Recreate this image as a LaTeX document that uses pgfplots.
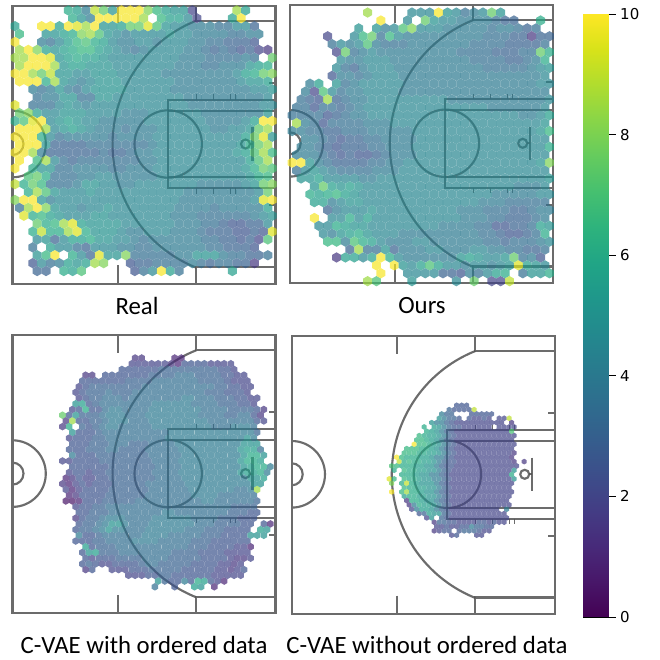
\documentclass[border=0pt]{standalone}
\usepackage{fontspec}
\setmainfont{Carlito}
\newfontfamily\dejavu{DejaVu Sans}
\usepackage{pgfplots}
\usepackage{pgfplotstable}
\pgfplotsset{compat=1.18}
\definecolor{courtgray}{HTML}{888888}

% pointy-top hexagon mark, as a hexbin draws it
\pgfdeclareplotmark{hexa}{%
  \pgfpathmoveto{\pgfpointpolar{30}{\pgfplotmarksize}}%
  \pgfpathlineto{\pgfpointpolar{90}{\pgfplotmarksize}}%
  \pgfpathlineto{\pgfpointpolar{150}{\pgfplotmarksize}}%
  \pgfpathlineto{\pgfpointpolar{210}{\pgfplotmarksize}}%
  \pgfpathlineto{\pgfpointpolar{270}{\pgfplotmarksize}}%
  \pgfpathlineto{\pgfpointpolar{330}{\pgfplotmarksize}}%
  \pgfpathclose\pgfusepathqfill}

% hex values x10, one line per hex row, 00 = empty cell
\pgfplotstableread[header=false]{
00 00 00 00 00  00 60 55 40 90  75 50 99 99 99  80 65 55 50 50  20 00 00 00 00  85 55 00 00 00
00 00 00 00 00  00 60 50 40 99  99 99 99 99 85  00 65 55 55 45  20 00 00 00 55  99 00 00 00 00
55 00 00 99 99  55 99 95 85 99  50 50 55 75 75  95 70 50 45 45  40 40 40 35 35  45 45 30 00 00
65 00 00 50 50  55 60 80 85 70  50 45 40 45 45  45 45 50 45 45  40 40 40 40 35  35 40 40 00 00
99 00 00 40 35  45 55 65 70 60  55 45 40 40 45  45 40 45 45 45  40 40 35 35 30  30 30 25 00 00
85 99 80 55 50  55 60 65 65 55  50 45 40 35 40  45 45 45 45 40  40 35 30 35 30  25 30 20 15 15
85 85 99 99 95  50 55 60 55 55  50 45 45 45 45  45 45 45 45 40  40 40 35 35 35  35 40 35 00 75
85 99 99 99 85  50 55 55 50 50  50 45 45 45 45  45 45 45 40 40  40 35 35 40 40  40 50 55 60 85
99 99 85 75 90  50 50 45 45 50  50 50 45 45 45  45 45 40 40 40  40 40 40 40 40  45 55 60 75 80
99 99 99 60 85  50 45 40 45 50  50 50 45 45 45  45 45 45 40 40  40 40 40 40 40  45 50 50 55 95
00 00 40 35 40  50 40 35 45 50  50 50 50 45 45  45 45 45 40 40  40 40 40 40 40  40 40 45 45 50
00 00 35 40 40  50 50 35 35 50  50 45 45 45 45  45 45 45 45 40  40 40 40 40 40  40 40 40 45 45
95 00 35 35 35  45 50 45 40 45  45 45 45 45 45  45 45 45 45 45  40 40 40 40 40  40 40 40 45 45
75 80 55 45 45  50 50 50 45 45  45 45 40 40 40  45 45 45 45 45  45 40 40 40 40  40 40 40 50 55
60 70 95 99 45  50 55 50 45 45  40 40 40 40 40  45 45 45 45 45  45 45 40 40 40  40 45 55 99 99
99 99 99 85 45  50 55 50 45 40  40 40 35 40 40  40 45 45 45 45  45 45 40 40 45  45 50 75 85 99
99 99 99 60 45  35 40 40 40 40  40 35 40 40 40  40 45 45 45 45  45 45 45 45 45  45 55 75 95 50
99 99 99 50 30  30 30 30 35 35  35 35 35 35 35  40 45 45 45 45  45 45 45 45 45  50 60 75 85 50
99 99 85 40 30  30 30 30 30 30  35 30 30 35 40  40 45 45 45 45  45 45 45 45 45  50 55 70 85 65
99 00 65 85 45  35 30 35 35 35  35 35 35 35 40  40 45 45 45 45  45 45 45 45 45  45 55 70 85 50
99 00 60 50 50  35 35 40 40 40  40 35 35 40 40  40 45 45 45 45  45 45 45 45 45  45 50 60 75 70
00 70 75 60 35  35 35 40 40 45  45 40 40 40 40  40 45 45 45 45  45 45 45 45 45  45 50 60 65 70
90 60 75 65 35  35 35 40 50 50  45 45 40 40 45  45 45 45 45 45  45 40 40 40 40  40 45 50 75 80
00 60 85 70 50  45 45 45 50 45  45 45 45 45 45  45 45 45 45 40  40 40 40 40 40  40 40 45 75 85
80 99 99 50 40  45 45 45 45 45  45 45 45 45 45  45 45 45 45 40  40 40 40 40 40  40 40 45 95 99
35 85 99 80 50  45 45 40 45 45  50 45 45 45 45  45 45 45 40 40  40 40 35 40 40  40 40 40 55 60
00 95 60 65 55  50 45 45 45 50  50 45 45 45 45  45 45 45 40 40  40 35 35 35 35  35 35 40 45 50
00 00 75 60 65  85 95 55 50 50  50 50 45 45 45  45 45 45 40 40  40 35 35 30 25  25 30 30 45 00
00 00 60 90 60  60 85 95 60 50  50 50 45 40 40  45 45 45 40 40  40 35 30 30 30  25 25 30 25 95
00 00 45 50 30  45 55 55 60 50  50 45 45 40 35  40 40 40 40 40  40 35 35 30 30  25 30 20 70 00
00 00 35 00 55  45 45 35 30 45  45 45 40 40 35  35 40 40 40 40  40 40 35 35 30  30 30 25 00 00
00 00 50 65 99  00 60 45 30 95  50 50 80 35 35  35 35 35 40 40  50 50 50 40 35  35 30 30 35 00
00 00 25 45 35  40 55 50 55 85  80 00 00 25 30  30 35 35 35 35  40 35 30 35 35  30 30 15 00 00
00 00 30 30 00  60 55 70 00 00  00 00 00 25 35  45 99 55 35 00  00 00 00 00 55  00 00 00 00 00
}\tabReal

\pgfplotstableread[header=false]{
00 00 00 00 00  00 00 99 00 00  00 00 00 00 50  45 50 00 00 45  40 75 50 20 45  00 00 00 00 00
00 00 00 00 00  00 00 00 85 00  00 00 00 45 45  45 99 50 45 35  40 45 75 50 00  00 00 00 00 00
00 00 00 00 00  00 00 00 00 00  99 00 00 45 00  75 50 45 45 40  40 40 40 35 30  30 00 00 60 00
00 00 00 00 00  00 00 50 00 50  40 45 70 80 45  45 45 40 40 40  40 40 35 40 40  35 30 35 00 00
00 00 00 00 20  00 00 45 65 75  35 65 45 40 40  40 40 40 40 40  40 40 35 35 35  30 30 15 30 30
00 00 00 00 35  45 40 45 70 40  35 35 35 40 40  40 40 40 40 40  35 35 35 35 30  30 30 30 35 35
00 00 00 00 00  20 75 35 40 45  40 40 40 40 40  40 40 40 40 35  35 35 35 30 30  30 35 35 75 60
00 00 00 00 00  45 40 40 45 45  45 40 40 40 40  40 40 40 40 40  35 35 35 35 30  30 35 40 60 95
00 00 00 00 00  45 35 30 40 45  45 45 40 40 40  40 40 40 40 40  40 40 35 35 35  35 35 40 45 50
00 00 00 00 25  40 40 35 40 45  45 45 40 40 40  40 40 40 40 40  40 40 40 40 40  40 40 40 45 45
00 00 40 55 00  50 35 40 45 45  45 45 45 40 40  40 40 40 40 40  40 40 40 40 40  40 40 40 45 45
00 40 20 70 45  35 40 40 45 45  45 45 40 40 40  40 40 40 40 40  40 40 40 40 40  40 40 40 40 45
00 35 30 25 85  30 35 40 40 45  45 45 45 45 45  45 45 45 40 40  40 40 40 40 40  40 40 40 40 45
35 35 25 35 35  30 35 40 45 45  45 45 45 45 45  45 45 45 45 45  45 45 40 40 40  40 40 40 45 50
35 35 35 35 25  30 35 40 40 45  45 45 45 45 45  45 45 45 45 45  45 45 45 45 45  45 40 40 45 55
85 40 35 25 35  35 35 35 40 40  40 45 45 45 45  45 45 45 45 45  45 45 45 45 45  45 45 45 50 65
40 40 35 35 30  30 35 35 35 40  40 40 40 40 45  45 45 45 45 45  45 45 45 45 45  45 45 45 50 65
00 40 40 35 30  25 30 30 35 35  40 40 40 40 45  45 45 45 45 45  45 45 45 45 45  45 45 45 45 70
00 40 40 35 30  25 30 30 30 35  35 40 40 40 45  45 45 45 45 45  45 45 45 45 45  45 45 45 45 60
40 40 40 35 30  25 30 25 25 30  35 40 40 40 45  45 45 45 45 45  45 45 45 45 45  45 45 45 45 60
99 99 50 40 35  30 30 30 30 35  35 40 40 45 45  45 45 45 45 45  45 45 45 45 45  45 45 45 50 80
35 45 50 45 40  35 35 35 35 40  40 40 45 45 45  45 45 45 45 45  45 45 45 45 45  45 45 45 45 50
00 50 50 55 45  45 45 45 40 40  45 45 45 45 45  45 45 45 45 45  45 45 45 45 45  45 45 45 45 50
00 00 50 75 55  50 55 50 45 45  45 45 45 45 45  45 45 45 45 45  45 45 45 45 45  40 40 40 45 45
00 00 60 55 60  65 55 50 45 45  45 45 45 45 45  45 45 45 45 45  45 45 45 40 40  40 40 40 45 45
00 00 55 55 40  45 50 50 45 45  45 45 45 45 45  45 45 45 45 45  45 40 40 40 35  35 35 35 35 40
00 00 00 00 30  40 45 45 45 50  45 45 45 45 45  45 45 45 45 40  40 40 35 35 35  30 30 35 40 40
00 00 99 00 45  45 60 45 55 45  45 45 45 45 45  45 45 45 45 40  40 40 35 35 30  30 30 35 40 50
00 00 00 45 45  60 55 50 50 45  45 45 45 45 45  45 45 40 40 40  40 35 35 25 25  30 30 35 55 50
00 00 00 45 40  50 55 60 50 45  45 45 40 40 40  40 40 40 40 40  40 35 35 30 25  25 30 35 60 45
00 00 00 00 65  65 40 70 60 55  45 40 40 40 45  45 40 40 40 40  40 40 35 35 30  35 35 35 40 45
00 00 00 00 00  00 30 85 35 35  50 30 40 40 40  45 45 40 40 40  45 45 40 40 35  35 30 30 35 35
00 00 00 00 00  15 55 55 45 55  99 60 45 40 40  40 40 40 40 50  55 50 45 45 50  75 35 40 25 00
00 00 00 00 00  00 00 00 00 99  00 99 50 45 55  70 55 45 45 40  45 45 40 45 50  95 55 50 45 55
00 00 00 00 00  00 00 00 00 00  99 00 00 45 45  45 45 30 30 25  40 35 45 55 60  00 35 50 50 60
00 00 00 00 00  00 00 00 85 70  00 00 00 50 00  00 00 00 45 00  75 00 20 20 90  00 00 00 00 00
}\tabOurs

\pgfplotstableread[header=false]{
00 00 00 00  00 00 00 00  00 00 00 15  15 00 00 00  00 10 10 00  00 00 00 00  00 00 00 00  00 00 00 00
00 00 00 00  00 00 00 00  00 00 20 20  20 20 20 20  15 10 25 25  25 25 20 20  20 20 00 00  00 00 00 00
00 00 00 00  00 00 00 00  00 25 25 25  25 25 25 30  30 30 30 30  30 30 30 30  25 25 20 00  00 00 00 00
00 00 00 15  15 00 25 25  25 25 25 25  25 30 30 30  30 35 35 35  30 30 30 30  25 25 20 20  00 00 00 00
00 00 00 25  25 25 25 25  25 25 30 30  30 30 35 35  35 35 35 35  35 30 30 30  30 25 20 20  20 00 00 00
00 00 20 25  30 30 30 30  30 30 30 30  35 35 35 35  35 35 35 35  35 35 35 30  30 25 25 20  20 00 00 00
00 00 20 25  30 30 30 35  30 30 30 35  35 35 35 35  35 35 35 35  35 35 30 30  30 25 25 25  20 00 00 00
00 00 20 25  30 30 35 35  35 30 35 35  35 35 35 35  35 35 40 40  35 35 35 30  30 30 25 25  20 20 00 00
00 00 50 55  25 30 35 35  35 35 35 35  35 35 40 40  40 40 40 40  35 35 35 35  30 30 30 25  25 20 00 00
00 20 25 60  25 25 35 40  40 35 35 35  35 40 40 40  40 40 40 40  40 35 35 35  35 30 30 30  30 25 15 00
75 25 50 30  30 30 35 40  40 40 35 35  35 40 40 40  40 40 40 40  40 35 35 35  35 30 30 35  35 25 15 00
15 85 25 25  30 30 35 40  40 40 35 35  35 40 40 40  40 40 40 40  40 40 35 35  35 35 35 35  35 25 20 00
15 60 00 30  25 30 35 40  40 35 35 35  35 35 40 40  40 40 40 40  40 40 40 35  35 35 40 40  40 35 00 00
00 50 25 25  25 30 35 35  35 35 35 35  35 35 35 35  40 40 40 40  40 40 40 40  40 40 40 40  40 30 00 00
00 20 25 25  25 30 30 35  35 35 35 35  35 35 35 35  40 40 40 40  40 40 40 40  40 40 40 40  50 40 00 00
00 25 25 25  30 30 30 35  35 35 30 30  30 35 35 35  35 40 40 40  40 40 40 40  40 40 40 50  50 50 00 00
00 25 25 25  30 30 30 35  35 30 30 30  30 35 35 35  35 35 40 40  40 40 40 40  40 40 40 50  55 55 35 00
00 40 25 25  25 30 30 30  30 30 30 30  30 35 35 35  35 35 40 40  40 40 40 40  40 40 40 50  60 60 50 00
20 20 25 25  25 25 30 30  30 30 30 30  30 30 35 35  35 35 40 40  40 40 40 40  40 40 40 50  60 60 55 00
00 25 25 25  25 25 25 30  30 30 30 30  30 30 35 35  35 35 40 40  40 40 40 40  40 40 40 50  55 60 60 40
00 20 25 25  20 25 25 30  30 30 30 30  30 30 35 35  35 35 40 40  40 40 40 40  40 40 40 50  55 55 60 40
10 15 25 20  20 25 25 30  30 30 30 30  30 30 35 35  35 35 40 40  40 40 40 40  40 40 40 40  50 50 55 00
15 10 20 25  20 25 25 25  30 30 30 30  30 35 35 35  35 35 35 40  40 40 40 40  40 40 40 40  40 50 50 00
20 10 20 25  25 25 25 30  30 30 30 30  30 35 35 35  35 35 35 40  40 40 40 40  40 40 35 35  40 85 00 00
00 10 15 25  25 25 25 30  30 30 30 30  30 35 35 35  35 35 35 35  40 40 40 40  35 35 35 35  35 35 00 00
05 05 10 25  25 25 30 30  30 30 30 35  35 35 35 35  35 35 35 35  35 40 40 35  35 35 35 35  35 30 00 00
00 00 20 25  25 30 30 35  35 35 35 35  35 35 35 35  35 35 35 35  35 35 35 35  35 35 30 30  30 30 00 00
00 00 25 25  30 30 30 35  35 35 35 35  35 35 35 40  40 35 35 35  35 35 35 35  35 30 30 30  25 25 00 00
00 00 15 25  30 30 35 40  40 40 35 35  35 35 40 40  40 40 40 40  35 35 35 35  30 30 30 25  25 25 00 00
00 00 25 30  30 35 40 50  50 40 35 35  35 40 40 40  40 40 40 40  35 35 35 30  30 30 30 25  25 00 25 10
00 00 25 30  30 35 40 50  40 40 35 35  35 40 40 40  40 40 40 35  35 35 30 30  30 25 25 25  25 00 55 50
00 00 40 25  25 30 35 35  35 35 35 35  40 40 40 40  35 35 35 35  35 30 30 30  25 25 25 25  50 50 50 00
00 00 25 25  25 30 30 35  35 35 35 40  40 40 40 35  35 35 35 35  30 30 30 25  25 25 25 25  25 00 00 00
00 00 00 55  25 30 30 30  35 35 35 35  35 35 35 35  35 35 35 30  30 30 25 25  25 25 20 20  10 00 00 00
00 00 00 25  50 55 30 30  30 35 35 35  35 35 35 35  35 30 30 30  30 25 25 25  25 20 20 20  20 00 00 00
00 00 00 25  20 25 25 25  30 30 30 30  35 35 35 35  30 30 30 30  30 25 25 25  25 20 15 15  20 00 00 00
00 00 00 25  30 25 20 20  25 25 25 25  30 35 35 30  30 30 30 30  25 25 25 25  20 20 15 20  00 00 00 00
00 00 00 15  25 00 00 20  20 20 25 25  25 30 30 30  30 30 25 25  25 25 25 20  20 15 20 25  00 00 00 00
00 00 00 00  00 00 00 00  00 00 20 20  20 25 25 30  30 25 25 25  25 25 25 20  20 20 20 20  00 00 00 00
00 00 00 00  00 00 00 00  00 00 00 00  00 00 50 30  25 25 40 25  60 55 25 20  10 00 00 00  00 00 00 00
00 00 00 00  00 00 00 00  00 00 00 00  00 00 35 00  00 25 00 00  55 50 00 10  00 00 00 00  00 00 00 00
}\tabWith

\pgfplotstableread[header=false]{
00 00 00 00  00 00 00 00  00 00 00 00  00 00 25 25  25 00 00 00  00 00 00 00  00 00 00 00
00 00 00 00  00 00 00 00  00 00 00 00  30 25 25 25  25 90 00 00  00 00 00 00  00 00 00 00
00 00 00 00  00 00 00 00  00 00 00 40  30 30 00 00  00 25 25 25  25 25 00 00  00 00 00 00
00 00 00 00  00 00 00 00  00 00 50 40  30 30 25 00  25 20 20 25  20 00 20 20  90 00 00 00
00 00 00 00  00 00 00 00  00 50 40 40  30 25 20 20  20 20 20 20  20 20 20 20  00 15 00 00
00 00 00 00  00 00 00 60  00 55 50 40  30 25 25 20  20 20 20 20  20 00 20 20  20 20 00 00
00 00 00 00  00 00 00 00  60 55 50 40  30 25 20 20  20 20 20 20  20 20 20 20  20 70 00 00
00 00 00 00  00 00 65 60  55 55 50 40  30 25 20 20  20 20 20 20  20 20 20 20  20 20 00 00
00 00 00 00  00 00 65 65  60 55 50 40  30 25 20 20  20 20 20 20  20 20 20 20  20 20 00 00
00 00 00 00  00 99 65 65  60 55 50 40  30 25 20 20  20 20 20 20  20 20 20 20  20 20 00 00
00 00 00 00  65 65 65 60  60 55 50 40  30 25 20 20  20 20 20 20  20 20 20 20  20 20 00 00
00 00 00 65  65 65 60 60  55 55 50 40  30 25 20 20  20 20 20 20  20 20 20 20  20 15 00 00
00 00 99 65  60 60 60 55  55 50 40 40  30 25 20 20  20 20 20 20  20 20 20 20  20 15 00 00
00 00 90 60  65 60 60 55  55 50 40 30  25 25 20 20  20 20 20 20  20 20 20 20  20 15 00 15
00 70 65 60  60 60 55 55  50 50 40 30  25 25 20 20  20 20 20 20  20 20 20 20  20 20 20 00
00 60 00 65  60 60 55 55  50 50 40 30  25 20 20 20  20 20 20 20  20 20 20 20  20 50 00 00
00 00 00 60  60 60 55 50  50 40 40 30  25 20 20 20  20 20 20 20  20 20 20 20  20 60 00 00
95 65 00 65  60 60 55 50  50 40 40 30  25 20 20 20  20 20 20 20  20 20 20 20  20 50 00 00
00 80 00 60  90 60 55 50  50 50 40 30  25 20 20 20  20 20 20 20  20 20 20 20  20 20 00 00
00 00 00 65  60 60 55 55  50 50 40 30  25 20 20 20  20 20 20 20  20 20 20 20  20 00 00 00
00 99 00 65  85 60 60 55  50 50 40 30  25 20 20 20  20 20 20 20  20 20 20 20  20 20 00 00
00 00 00 55  60 60 55 55  50 50 40 30  25 20 20 20  20 20 20 20  20 20 20 20  20 00 00 00
00 00 00 00  15 60 60 55  50 50 40 30  25 20 20 20  20 20 20 20  20 20 20 20  20 00 00 00
00 00 00 00  15 40 60 55  55 50 40 30  25 20 20 20  20 20 20 20  20 20 20 20  20 00 00 00
00 00 00 00  00 20 40 55  55 50 40 30  25 20 20 20  20 20 20 20  20 20 20 00  40 00 00 00
00 00 00 00  00 00 25 30  55 50 50 30  25 20 20 20  20 20 20 20  20 20 20 20  00 00 00 00
00 00 00 00  00 00 00 00  20 50 00 30  25 20 20 20  20 20 20 20  20 20 20 20  20 00 00 00
00 00 00 00  00 00 00 00  00 15 30 30  25 25 20 20  20 20 25 25  20 25 20 20  00 00 00 00
00 00 00 00  00 00 00 00  00 00 20 20  25 20 20 25  25 40 30 30  25 25 00 00  00 00 00 00
00 00 00 00  00 00 00 00  00 15 20 25  25 00 25 30  30 30 25 20  20 00 00 00  00 00 00 00
00 00 00 00  00 00 00 00  00 00 00 00  00 20 25 00  00 00 20 20  00 00 00 00  00 00 00 00
}\tabWithout

\tikzset{court/.style={line width=2.1pt}}

% half court, in pixels from the panel's top left corner; #1 is the line colour
\newcommand{\court}[1]{%
  \begin{scope}[#1]
  \draw[court] (105.7,0) -- (105.7,17.7);
  \draw[court] (105.7,259.5) -- (105.7,278);
  \draw[court] (183.7,0) -- (183.7,15) -- (263,15);
  \draw[court] (183.7,278) -- (183.7,261.5) -- (263,261.5);
  \draw[court] (183.7,15) arc[start angle=111.8,end angle=248.2,radius=133pt];
  \draw[court] (263,94) -- (155.7,94) -- (155.7,182.7) -- (263,182.7);
  \draw[court] (155.7,105) -- (263,105);
  \draw[court] (155.7,171.7) -- (263,171.7);
  \draw[court] (155.7,138.3) circle[radius=33.7pt];
  \draw[line width=1.4pt] (183.7,94) -- (183.7,88.7);
  \draw[line width=1.4pt] (200.7,94) -- (200.7,88.7);
  \draw[line width=1.4pt] (217.7,94) -- (217.7,88.7);
  \draw[line width=1.4pt] (223,94) -- (223,88.7);
  \draw[line width=1.4pt] (183.7,182.7) -- (183.7,188);
  \draw[line width=1.4pt] (200.7,182.7) -- (200.7,188);
  \draw[line width=1.4pt] (217.7,182.7) -- (217.7,188);
  \draw[line width=1.4pt] (223,182.7) -- (223,188);
  \draw[court] (240,121.7) -- (240,155);
  \draw[court] (233,138.3) circle[radius=4.5pt];
  \draw[court] (237.5,138.3) -- (240,138.3);
  \draw[court] (256.7,77) -- (263,77);
  \draw[court] (256.7,199.7) -- (263,199.7);
  \draw[court] (0,138.3) circle[radius=33.3pt];
  \draw[court] (0,138.3) circle[radius=11pt];
  \end{scope}
}

% #1 table, #2 last column, #3 u0, #4 v0, #5 column step, #6 row step, #7 hex radius
\newcommand{\hexlayer}[7]{%
  \pgfplotsinvokeforeach{0,...,#2}{%
    \addplot[scatter,only marks,mark=hexa,mark size=#7pt,
      point meta=explicit,
      scatter/use mapped color={draw=none,fill=mapped color},
      mark options={fill opacity=0.7}]
      table[header=false,
        x expr={#3+#5*(##1+0.5*mod(\coordindex,2))},
        y expr={\thisrowno{##1}>0 ? #4+#6*\coordindex : nan},
        meta expr={\thisrowno{##1}/10}] {#1};
  }%
}

\pgfplotsset{
  panel/.style={
    anchor=south west,scale only axis,
    width=263pt,height=278pt,
    xmin=0,xmax=263,ymin=0,ymax=278,y dir=reverse,
    ticks=none,
    axis line style={color=black!58,line width=2.1pt},
    colormap/viridis,point meta min=0,point meta max=10,
  },
}

\begin{document}
\begin{tikzpicture}[x=1pt,y=1pt]
\path[use as bounding box] (0,0) rectangle (659,660);

\begin{axis}[panel,at={(12.5pt,376.3pt)}]
\court{courtgray}
\hexlayer{\tabReal}{29}{2.5}{4.67}{8.87}{7.9}{5.15}
\court{black,draw opacity=0.2}
\end{axis}

\begin{axis}[panel,at={(289.7pt,377pt)}]
\court{courtgray}
\hexlayer{\tabOurs}{29}{2.5}{-0.33}{8.87}{7.9}{5.15}
\court{black,draw opacity=0.2}
\end{axis}

\begin{axis}[panel,at={(12.5pt,46.7pt)}]
\court{courtgray}
\hexlayer{\tabWith}{31}{50}{22.7}{6.6}{5.72}{3.78}
\court{black,draw opacity=0.2}
\end{axis}

\begin{axis}[panel,at={(291.7pt,46pt)}]
\court{courtgray}
\hexlayer{\tabWithout}{27}{95}{69.3}{5}{4.33}{2.86}
\court{black,draw opacity=0.2}
\end{axis}

\begin{axis}[
  anchor=south west,scale only axis,at={(583.3pt,43pt)},
  width=25.4pt,height=603pt,
  xmin=0,xmax=1,ymin=0,ymax=10,
  xtick=\empty,ytick={0,2,...,10},
  ytick pos=right,yticklabel pos=right,tick align=outside,
  major tick length=7pt,
  tick style={black,line width=0.8pt},
  axis line style={black,line width=0.8pt},
  yticklabel style={font=\dejavu\fontsize{15}{15}\selectfont,xshift=1pt},
  /pgf/number format/assume math mode=true,
  colormap/viridis,
]
\addplot[surf,shader=interp,point meta=y,mesh/cols=2] coordinates {(0,0) (1,0) (0,10) (1,10)};
\end{axis}

\node[font=\fontsize{24.8}{25}\selectfont] at (137,354) {Real};
\node[font=\fontsize{24.8}{25}\selectfont] at (422,354) {Ours};
\node[font=\fontsize{24.8}{25}\selectfont] at (144,15) {C-VAE with ordered data};
\node[font=\fontsize{24.8}{25}\selectfont] at (427,15) {C-VAE without ordered data};
\end{tikzpicture}
\end{document}
